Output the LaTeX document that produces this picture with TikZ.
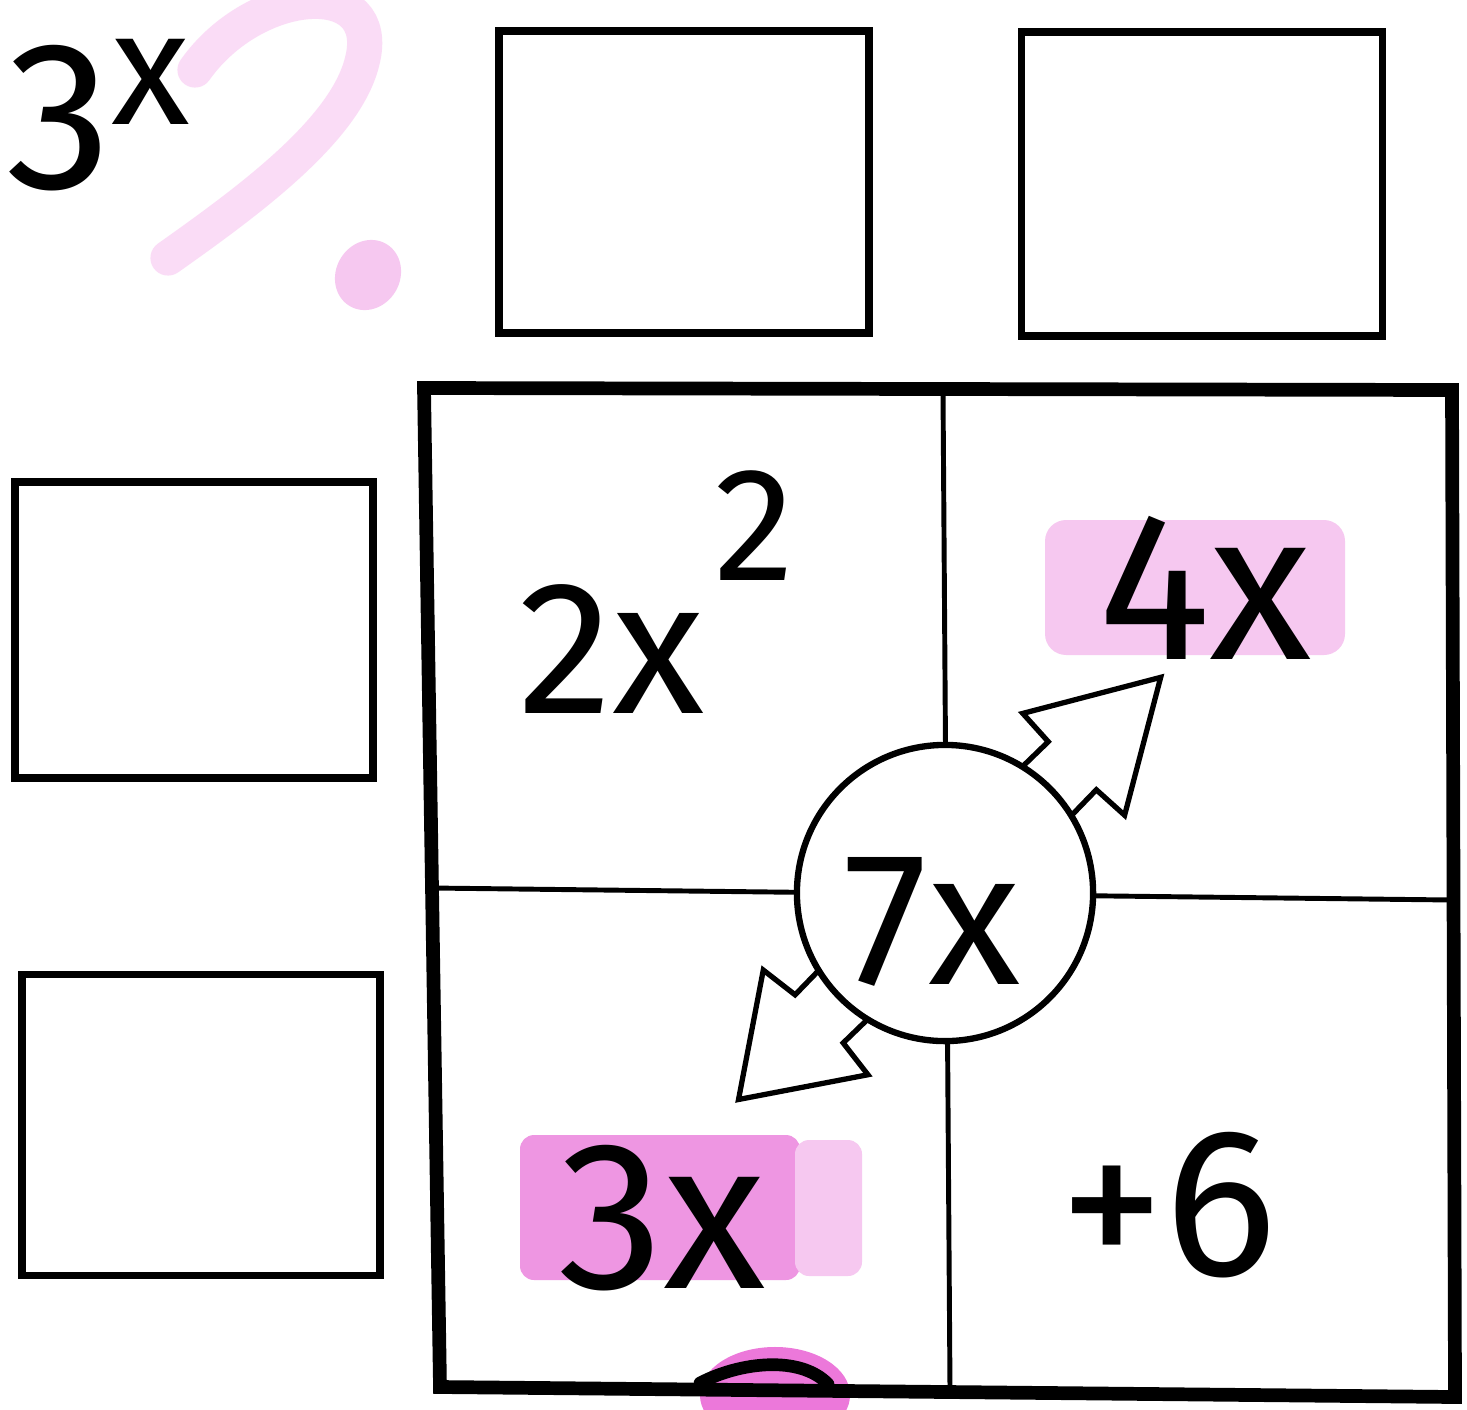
\documentclass[tikz,border=0pt]{standalone}
\usepackage{fontspec}
\setmainfont{Fira Sans}
\definecolor{hlA}{RGB}{246,200,240}
\definecolor{hlB}{RGB}{238,150,226}
\definecolor{hlC}{RGB}{250,214,245}
\definecolor{hlD}{RGB}{236,120,218}
\begin{document}
\begin{tikzpicture}[x=0.01cm,y=-0.01cm,
  smallbox/.style={draw, line width=2.2pt, inner sep=0},
  outerframe/.style={line width=3.9pt, line join=miter},
  gridline/.style={line width=1.4pt},
  blockarrow/.style={draw, fill=white, line width=1.5pt, line join=miter},
  lbl/.style={inner sep=0, font=\fontsize{60}{60}\selectfont}]
\useasboundingbox (0,0) rectangle (1467,1409);
\clip (0,0) rectangle (1467,1409);
\fill[white] (0,0) rectangle (1467,1409);

% pink marks top left
\draw[hlC, line width=10pt, line cap=round, opacity=0.85]
  (195,70) .. controls (255,-15) and (385,-25) .. (362,62)
  .. controls (345,130) and (250,200) .. (168,258);
\fill[hlA, rotate around={-30:(368,275)}] (368,275) ellipse [x radius=0.32cm, y radius=0.36cm];

% top-left label
\node[lbl, anchor=base west] (tl3x) at (6,188) {3\raisebox{0.3em}{\fontsize{46}{46}\selectfont x}};

% small boxes
\node[smallbox, minimum width=3.70cm, minimum height=3.02cm] (b1) at (684,182) {};
\node[smallbox, minimum width=3.61cm, minimum height=3.04cm] (b2) at (1202,184) {};
\node[smallbox, minimum width=3.58cm, minimum height=2.96cm] (b3) at (194,630) {};
\node[smallbox, minimum width=3.58cm, minimum height=3.01cm] (b4) at (201,1125) {};

% highlights
\fill[hlA, rounded corners=6pt] (1045,520) rectangle (1345,655);
\fill[hlB, rounded corners=4pt] (520,1135) rectangle (800,1280);
\fill[hlA, rounded corners=4pt] (795,1140) rectangle (862,1276);

% bottom pink blob
\fill[hlD] (775,1395) ellipse [x radius=0.75cm, y radius=0.48cm];

% big square
\coordinate (tl) at (424,388);
\coordinate (tr) at (1452,390);
\coordinate (br) at (1455,1397);
\coordinate (bl) at (440,1387);
\coordinate (vt) at (943,392);
\coordinate (vb) at (950,1390);
\coordinate (hl) at (432,888);
\coordinate (hr) at (1452,900);
\draw[gridline] (vt) -- (vb);
\draw[gridline] (hl) -- (hr);
\draw[outerframe] (tl) -- (tr) -- (br) -- (bl) -- cycle;

% bottom squiggle
\draw[line width=3.6pt, line cap=round] (700,1383) .. controls (740,1362) and (800,1355) .. (828,1384);

% arrows
\coordinate (cc) at (945,893);
\begin{scope}[shift={(cc)}, rotate=45]
  \draw[blockarrow] (120,35) -- (180,34) -- (182,72) -- (305,0) -- (182,-72) -- (180,-34) -- (120,-35) -- cycle;
\end{scope}
\begin{scope}[shift={(cc)}, rotate=225]
  \draw[blockarrow] (120,35) -- (178,34) -- (183,74) -- (292,0) -- (183,-74) -- (178,-34) -- (120,-35) -- cycle;
\end{scope}

% circle
\node[circle, draw, line width=1.8pt, fill=white, minimum size=2.96cm, inner sep=0] (circ) at (cc) {};

% labels
\node[lbl, anchor=base west] (t2x2) at (518,713) {\fontsize{54}{54}\selectfont 2x\hspace{0.05em}\raisebox{0.7em}{\fontsize{46}{46}\selectfont 2}};
\node[lbl] (t4x) at (1205,588) {4x};
\node[lbl] (t3x) at (662,1218) {3x};
\node[lbl] (t6) at (1168,1205) {+6};
\node[lbl, font=\fontsize{54}{54}\selectfont] (t7x) at (932,922) {7x};
\end{tikzpicture}
\end{document}
